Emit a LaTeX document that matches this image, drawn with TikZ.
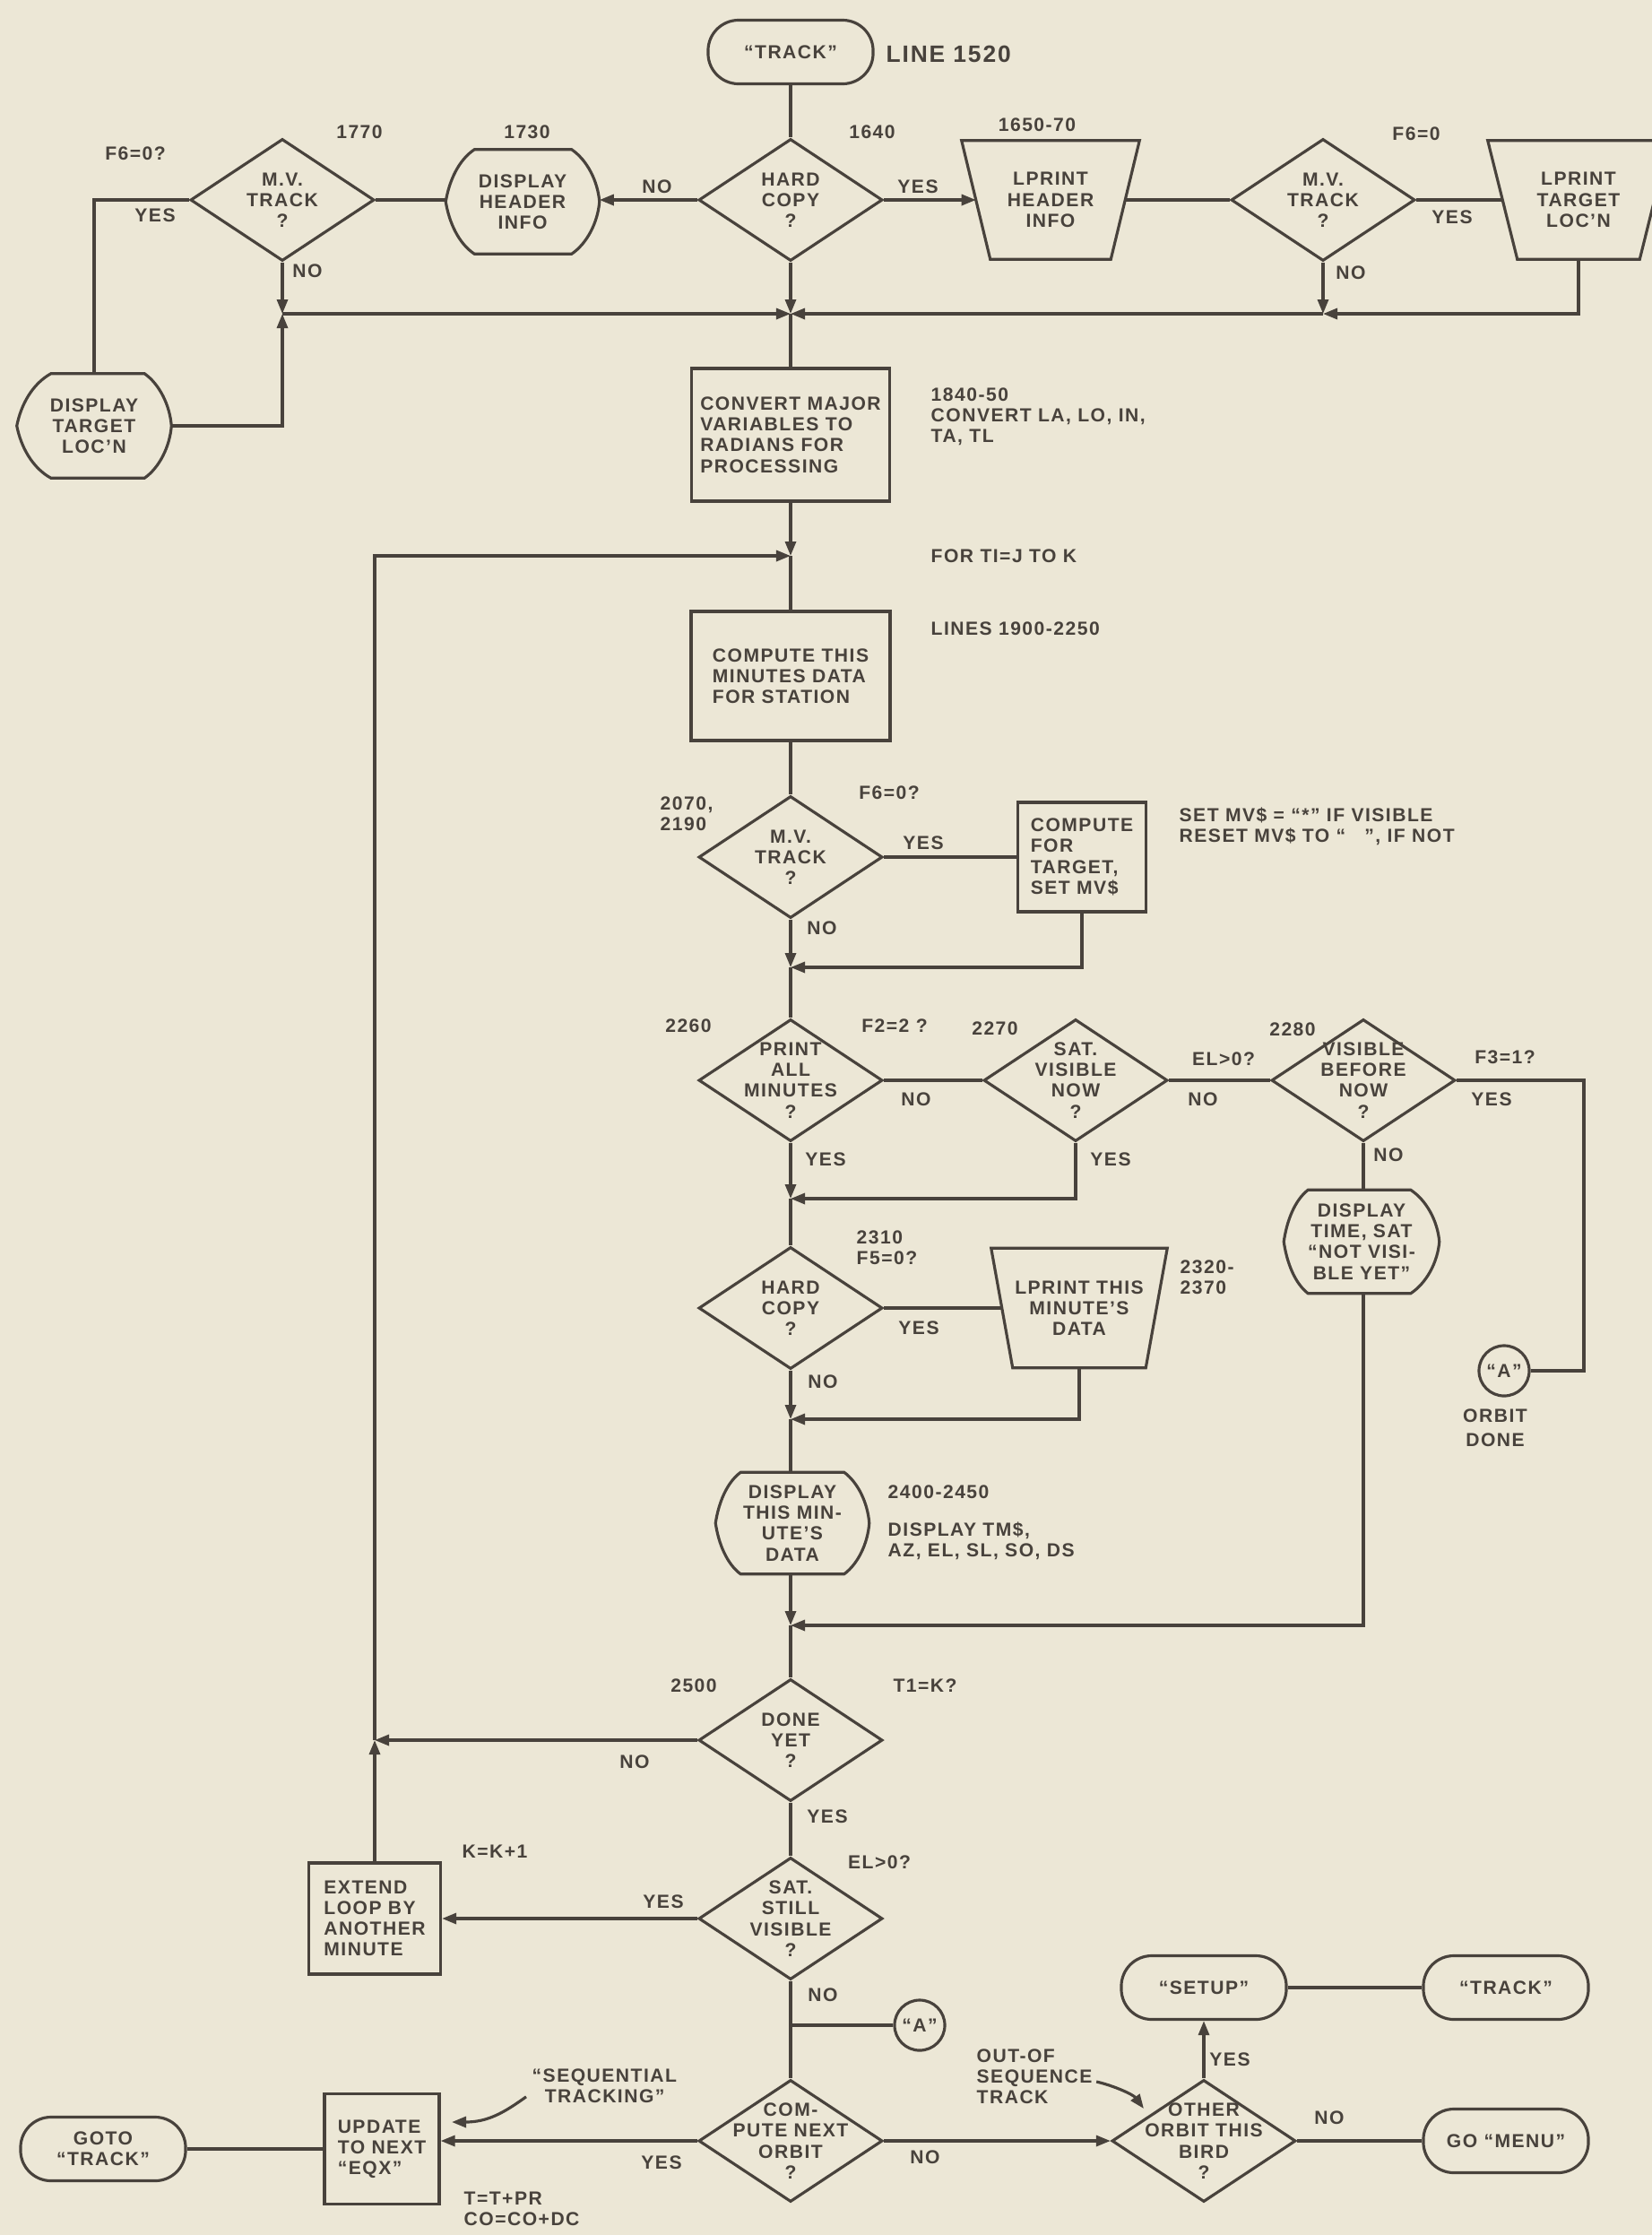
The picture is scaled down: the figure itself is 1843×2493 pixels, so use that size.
\documentclass[tikz,border=0pt]{standalone}
\usepackage{fontspec}
\setmainfont{Liberation Sans}[LetterSpace=7]
\usetikzlibrary{shapes.geometric,arrows.meta,calc}
\definecolor{paper}{RGB}{236,231,214}
\definecolor{ink}{RGB}{72,66,60}
\newcommand\dispoutline[3]{%
\draw[ln] ($(#1.north west)+(#2,0)$) -- ($(#1.north east)+(-#3,0)$)
 .. controls ($(#1.north east)!0.2!(#1.east)+(-0.45*#3,0)$) and ($(#1.east)!0.4!(#1.north east)+(-0.06*#3,0)$) .. (#1.east)
 .. controls ($(#1.east)!0.4!(#1.south east)+(-0.06*#3,0)$) and ($(#1.south east)!0.2!(#1.east)+(-0.45*#3,0)$) .. ($(#1.south east)+(-#3,0)$)
 -- ($(#1.south west)+(#2,0)$)
 .. controls ($(#1.south west)!0.2!(#1.west)+(0.45*#2,0)$) and ($(#1.west)!0.4!(#1.south west)+(0.12*#2,0)$) .. (#1.west)
 .. controls ($(#1.west)!0.4!(#1.north west)+(0.12*#2,0)$) and ($(#1.north west)!0.2!(#1.west)+(0.45*#2,0)$) .. cycle;}
\newcommand\trapoutline[2]{%
\draw[ln] (#1.north west) -- (#1.north east) -- ($(#1.south east)+(-#2,0)$) -- ($(#1.south west)+(#2,0)$) -- cycle;}
\begin{document}
\begin{tikzpicture}[x=0.01cm,y=-0.01cm,
 ln/.style={draw=ink,line width=0.9pt},
 arr/.style={ln,-{Triangle[length=1.6mm,width=1.2mm]}},
 ft/.style={font=\fontsize{6}{6.6}\selectfont\bfseries},
 txt/.style={ft,text=ink,align=center,inner sep=0pt},
 lab/.style={ft,text=ink,inner sep=0pt},
 labw/.style={lab,anchor=west,align=left},
 procbox/.style={ln,rectangle,txt,inner sep=2pt},
 term/.style={ln,rectangle,rounded corners=0.34cm,txt,minimum width=1.84cm,minimum height=0.71cm},
 dec/.style={ln,diamond,minimum width=2.05cm,minimum height=1.36cm,inner sep=0pt},
 ghost/.style={rectangle,inner sep=0pt,txt},
 conn/.style={ln,circle,txt,minimum size=0.56cm,inner sep=0pt},
]
\fill[paper] (0,0) rectangle (1843,2493);
\useasboundingbox (0,0) rectangle (1843,2493);

% ---------- top row ----------
\node[term] (trk) at (882,58) {“TRACK”};
\node[lab,anchor=west,font=\fontsize{7.5}{8}\selectfont\bfseries] (l1520) at (988,60) {LINE 1520};
\node[dec] (hc1) at (882,223) {};
\node[txt] (hc1t) at (hc1) {HARD\\COPY\\?};
\node[ghost,minimum width=1.70cm,minimum height=1.15cm] (dh) at (583,225) {DISPLAY\\HEADER\\INFO};
\dispoutline{dh}{32}{31}
\node[dec] (mv1) at (315,223) {};
\node[txt] (mv1t) at (mv1) {M.V.\\TRACK\\?};
\node[ghost,minimum width=1.71cm,minimum height=1.15cm] (dt) at (105,475) {DISPLAY\\TARGET\\LOC’N};
\dispoutline{dt}{38}{30}
\node[ghost,minimum width=1.97cm,minimum height=1.31cm] (lp1) at (1172,223) {LPRINT\\HEADER\\INFO};
\trapoutline{lp1}{32}
\node[dec] (mv2) at (1476,223) {};
\node[txt] (mv2t) at (mv2) {M.V.\\TRACK\\?};
\node[ghost,minimum width=2.01cm,minimum height=1.31cm] (lp2) at (1761,223) {LPRINT\\TARGET\\LOC’N};
\trapoutline{lp2}{33}

\coordinate (j1) at (882,350);
\coordinate (j1l) at (315,350);
\coordinate (j1r) at (1476,350);

\draw[ln] (trk.south) -- (hc1.north);
\draw[arr] (hc1.west) -- (hc1.west -| dh.east);
\draw[arr] (hc1.east) -- ($(lp1.west)+(16,0)$);
\draw[ln] (mv1.east -| dh.west) -- (mv1.east);
\draw[ln] (mv1.west) -| (dt.north);
\draw[arr] (mv1.south) -- (j1l);
\draw[arr] (dt.east) -| (j1l);
\draw[arr] (j1l) -- (j1);
\draw[arr] (hc1.south) -- (j1);
\draw[ln] ($(lp1.east)+(-16,0)$) -- (mv2.west);
\draw[ln] (mv2.east) -- ($(lp2.west)+(16.5,0)$);
\draw[arr] (mv2.south) -- (j1r);
\draw[arr] (lp2.south) |- (j1r);
\draw[arr] (j1r) -- (j1);

\node[lab] (l1770) at (401,147) {1770};
\node[lab] (l1730) at (588,147) {1730};
\node[lab] (l1640) at (973,147) {1640};
\node[lab] (l1650) at (1157,139) {1650-70};
\node[lab] (lf60a) at (1580,149) {F6=0};
\node[lab] (lf60b) at (151,171) {F6=0?};
\node[lab] (lyes1) at (173,240) {YES};
\node[lab] (lno1) at (343,302) {NO};
\node[lab] (lno2) at (733,208) {NO};
\node[lab] (lyes2) at (1024,208) {YES};
\node[lab] (lyes3) at (1620,242) {YES};
\node[lab] (lno3) at (1507,304) {NO};

% ---------- convert / loop ----------
\node[procbox,align=left,minimum width=2.21cm,minimum height=1.48cm] (cv) at (882,485) {CONVERT MAJOR\\VARIABLES TO\\RADIANS FOR\\PROCESSING};
\draw[ln] (j1) -- (cv.north);
\node[labw] (l1840) at (1038,465) {1840-50\\CONVERT LA, LO, IN,\\TA, TL};
\coordinate (j2) at (882,620);
\draw[arr] (cv.south) -- (j2);
\node[labw] (lfor) at (1038,620) {FOR TI=J TO K};
\node[procbox,align=left,minimum width=2.22cm,minimum height=1.44cm] (cm) at (882,754) {COMPUTE THIS\\MINUTES DATA\\FOR STATION};
\draw[ln] (j2) -- (cm.north);
\node[labw] (llines) at (1038,701) {LINES 1900-2250};

% ---------- M.V. track 2070 ----------
\node[dec] (mv3) at (882,956) {};
\node[txt] (mv3t) at (mv3) {M.V.\\TRACK\\?};
\node[procbox,align=left,minimum width=1.43cm,minimum height=1.22cm] (cft) at (1207,956) {COMPUTE\\FOR\\TARGET,\\SET MV\$};
\coordinate (j3) at (882,1079);
\draw[ln] (cm.south) -- (mv3.north);
\draw[ln] (mv3.east) -- (cft.west);
\draw[arr] (mv3.south) -- (j3);
\draw[arr] (cft.south) |- (j3);
\node[labw] (l2070) at (736,908) {2070,\\2190};
\node[lab] (lf60c) at (992,884) {F6=0?};
\node[lab] (lyes4) at (1030,940) {YES};
\node[lab] (lno4) at (917,1035) {NO};
\node[labw] (lsetmv) at (1315,922) {SET MV\$ = “*” IF VISIBLE\\RESET MV\$ TO “\hspace{6pt}”, IF NOT};

% ---------- print all minutes row ----------
\node[dec] (pam) at (882,1205) {};
\node[txt] (pamt) at (pam) {PRINT\\ALL\\MINUTES\\?};
\node[dec] (sat) at (1200,1205) {};
\node[txt] (satt) at (sat) {SAT.\\VISIBLE\\NOW\\?};
\node[dec] (vbn) at (1521,1205) {};
\node[txt] (vbnt) at (vbn) {VISIBLE\\BEFORE\\NOW\\?};
\draw[ln] (j3) -- (pam.north);
\draw[ln] (pam.east) -- (sat.west);
\draw[ln] (sat.east) -- (vbn.west);
\node[ghost,minimum width=1.72cm,minimum height=1.14cm] (dtm) at (1519,1385) {DISPLAY\\TIME, SAT\\“NOT VISI-\\BLE YET”};
\dispoutline{dtm}{27}{32}
\draw[ln] (vbn.south) -- (vbn.south |- dtm.north);
\coordinate (j4) at (882,1337);
\draw[arr] (pam.south) -- (j4);
\draw[arr] (sat.south) |- (j4);
\node[conn] (ca1) at (1678,1529) {“A”};
\coordinate (vr) at (1767,1529);
\draw[ln] (vbn.east) -| (vr) -- (ca1.east);
\node[lab] (lorb) at (1668,1579) {ORBIT};
\node[lab] (ldone) at (1668,1606) {DONE};
\node[lab] (l2260) at (768,1144) {2260};
\node[lab] (lf22) at (998,1144) {F2=2 ?};
\node[lab] (l2270) at (1110,1147) {2270};
\node[lab] (l2280) at (1442,1148) {2280};
\node[lab] (lno5) at (1022,1226) {NO};
\node[lab] (lel1) at (1365,1181) {EL>0?};
\node[lab] (lno6) at (1342,1226) {NO};
\node[lab] (lf31) at (1679,1179) {F3=1?};
\node[lab] (lyes5) at (1664,1226) {YES};
\node[lab] (lyes6) at (921,1293) {YES};
\node[lab] (lyes7) at (1239,1293) {YES};
\node[lab] (lno7) at (1549,1288) {NO};

% ---------- hard copy 2310 ----------
\node[dec] (hc2) at (882,1459) {};
\node[txt] (hc2t) at (hc2) {HARD\\COPY\\?};
\draw[ln] (j4) -- (hc2.north);
\node[ghost,minimum width=1.95cm,minimum height=1.32cm] (lp3) at (1204,1459) {LPRINT THIS\\MINUTE’S\\DATA};
\trapoutline{lp3}{24}
\draw[ln] (hc2.east) -- ($(lp3.west)+(12,0)$);
\coordinate (j5) at (882,1583);
\draw[arr] (hc2.south) -- (j5);
\draw[arr] (lp3.south) |- (j5);
\node[labw] (l2310) at (955,1392) {2310\\F5=0?};
\node[lab] (lyes8) at (1025,1481) {YES};
\node[lab] (lno8) at (918,1541) {NO};
\node[labw] (l2320) at (1316,1425) {2320-\\2370};

% ---------- display this minute ----------
\node[ghost,minimum width=1.70cm,minimum height=1.12cm] (dm) at (884,1699) {DISPLAY\\THIS MIN-\\UTE’S\\DATA};
\dispoutline{dm}{28}{28}
\draw[ln] (j5) -- (j5 |- dm.north);
\coordinate (j6) at (882,1813);
\draw[arr] (j6 |- dm.south) -- (j6);
\draw[arr] (vbn.south |- dtm.south) |- (j6);
\node[labw] (l2400) at (990,1664) {2400-2450};
\node[labw] (ltm) at (990,1719) {DISPLAY TM\$,\\AZ, EL, SL, SO, DS};

% ---------- done yet ----------
\node[dec] (dn) at (882,1941) {};
\node[txt] (dnt) at (dn) {DONE\\YET\\?};
\draw[ln] (j6) -- (dn.north);
\coordinate (j7) at (418,1941);
\draw[arr] (dn.west) -- (j7);
\node[procbox,align=left,minimum width=1.47cm,minimum height=1.24cm] (ext) at (418,2140) {EXTEND\\LOOP BY\\ANOTHER\\MINUTE};
\draw[arr] (ext.north) -- (j7);
\draw[arr] (j7) |- (j2);
\node[lab] (l2500) at (774,1880) {2500};
\node[lab] (lt1k) at (1032,1880) {T1=K?};
\node[lab] (lno9) at (708,1965) {NO};
\node[lab] (lyes9) at (923,2026) {YES};

% ---------- sat still visible ----------
\node[dec] (ssv) at (882,2140) {};
\node[txt] (ssvt) at (ssv) {SAT.\\STILL\\VISIBLE\\?};
\draw[ln] (dn.south) -- (ssv.north);
\draw[arr] (ssv.west) -- (ext.east);
\node[lab] (lkk) at (552,2065) {K=K+1};
\node[lab] (lel2) at (981,2077) {EL>0?};
\node[lab] (lyes10) at (740,2121) {YES};
\node[lab] (lno10) at (918,2225) {NO};

% ---------- compute next orbit ----------
\node[dec] (cno) at (882,2388) {};
\node[txt] (cnot) at (cno) {COM-\\PUTE NEXT\\ORBIT\\?};
\draw[ln] (ssv.south) -- (cno.north);
\coordinate (j9) at (882,2259);
\node[conn] (ca2) at (1026,2259) {“A”};
\draw[ln] (j9) -- (ca2.west);
\node[procbox,align=left,minimum width=1.28cm,minimum height=1.23cm] (upd) at (426,2397) {UPDATE\\TO NEXT\\“EQX”};
\draw[arr] (cno.west) -- (cno.west -| upd.east);
\node[term] (gto) at (115,2397) {GOTO\\“TRACK”};
\draw[ln] (upd.west) -- (gto.east);
\node[lab] (lyes11) at (738,2412) {YES};
\node[lab] (lno11) at (1032,2406) {NO};
\node[labw] (ltpr) at (517,2464) {T=T+PR\\CO=CO+DC};
\node[labw] (lseq) at (593,2327) {“SEQUENTIAL\\\hspace{4pt}TRACKING”};
\coordinate (sqa) at (504,2367);
\draw[arr] ($(lseq.south west)+(-6,-8)$) .. controls +(-25,18) and +(40,0) .. (sqa);

% ---------- other orbit ----------
\node[dec] (oob) at (1343,2388) {};
\node[txt] (oobt) at (oob) {OTHER\\ORBIT THIS\\BIRD\\?};
\draw[arr] (cno.east) -- (oob.west);
\node[term] (stp) at (1343,2217) {“SETUP”};
\draw[arr] (oob.north) -- (stp.south);
\node[term] (trk2) at (1680,2217) {“TRACK”};
\draw[ln] (stp.east) -- (trk2.west);
\node[term] (mnu) at (1680,2388) {GO “MENU”};
\draw[ln] (oob.east) -- (mnu.west);
\node[lab] (lyes12) at (1372,2297) {YES};
\node[lab] (lno12) at (1483,2362) {NO};
\node[labw] (loos) at (1089,2316) {OUT-OF\\SEQUENCE\\TRACK};
\coordinate (oosa) at (1276,2352);
\draw[arr] ($(loos.east)+(4,6)$) .. controls +(18,4) and +(-12,-16) .. (oosa);
\end{tikzpicture}
\end{document}
